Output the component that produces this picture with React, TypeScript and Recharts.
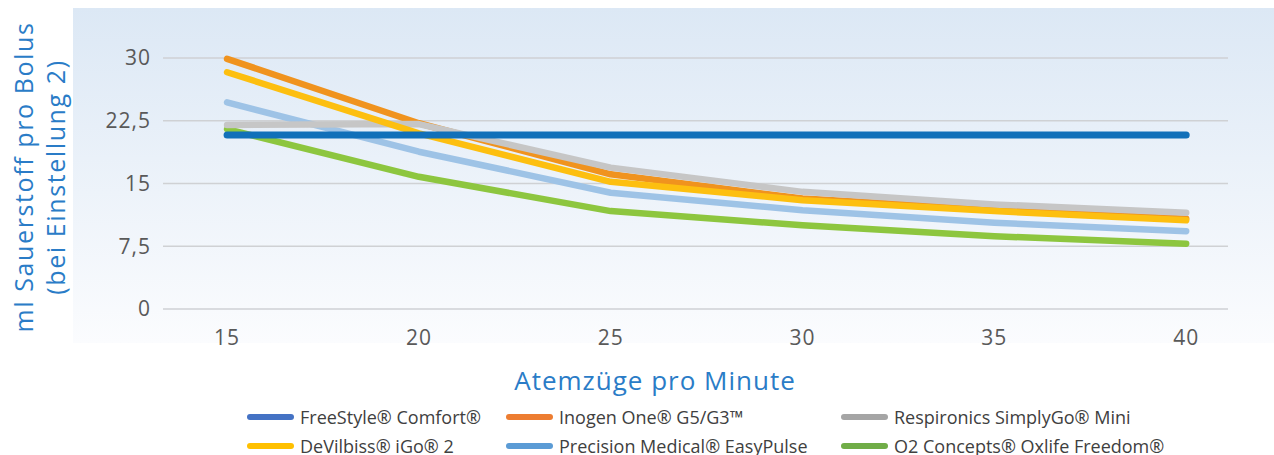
import { LineChart, Line, XAxis, YAxis, CartesianGrid } from 'recharts'

// Atemzüge pro Minute
const breaths = [15, 20, 25, 30, 35, 40]

// ml Sauerstoff pro Bolus (Einstellung 2)
const freeStyle = [20.8, 20.8, 20.8, 20.8, 20.8, 20.8]
const inogen = [29.9, 22.2, 16.1, 13.2, 11.9, 10.8]
const respironics = [22.0, 22.1, 16.9, 14.0, 12.5, 11.5]
const deVilbiss = [28.3, 21.0, 15.2, 13.0, 11.7, 10.6]
const precision = [24.7, 18.8, 13.9, 11.8, 10.3, 9.3]
const o2Concepts = [21.5, 15.8, 11.7, 10.0, 8.7, 7.8]

const yTicks = [0, 7.5, 15, 22.5, 30]
const xTicks = breaths

type SeriesKey = 'freeStyle' | 'inogen' | 'respironics' | 'deVilbiss' | 'precision' | 'o2Concepts'

const SERIES: Record<SeriesKey, { label: string; line: string; legend: string; width: number }> = {
  freeStyle: { label: 'FreeStyle® Comfort®', line: '#1170b9', legend: '#4472c4', width: 7 },
  inogen: { label: 'Inogen One® G5/G3™', line: '#f0931e', legend: '#ed7d31', width: 6.5 },
  respironics: { label: 'Respironics SimplyGo® Mini', line: '#c6c6c6', legend: '#a5a5a5', width: 6.5 },
  deVilbiss: { label: 'DeVilbiss® iGo® 2', line: '#fdbf10', legend: '#ffc000', width: 6.5 },
  precision: { label: 'Precision Medical® EasyPulse', line: '#9ec3e6', legend: '#5b9bd5', width: 6.5 },
  o2Concepts: { label: 'O2 Concepts® Oxlife Freedom®', line: '#8dc63f', legend: '#70ad47', width: 6.5 },
}

// draw order: last one ends up on top
const DRAW_ORDER: SeriesKey[] = ['o2Concepts', 'precision', 'inogen', 'respironics', 'deVilbiss', 'freeStyle']

// legend rows as in the picture
const LEGEND_ROWS: SeriesKey[][] = [
  ['freeStyle', 'inogen', 'respironics'],
  ['deVilbiss', 'precision', 'o2Concepts'],
]
const LEGEND_COLS = [247, 506, 841]

const data = breaths.map((b, i) => ({
  x: b,
  freeStyle: freeStyle[i],
  inogen: inogen[i],
  respironics: respironics[i],
  deVilbiss: deVilbiss[i],
  precision: precision[i],
  o2Concepts: o2Concepts[i],
}))

const fmtY = (v: number) => String(v).replace('.', ',')

const TITLE_BLUE = '#2a7cc7'
const FONT = '"Open Sans", "Noto Sans", sans-serif'

export default function App() {
  return (
    <div style={{ position: 'absolute', left: 0, top: 0, width: 1274, height: 455, background: '#fff', overflow: 'hidden' }}>
      {/* plot background */}
      <div
        style={{
          position: 'absolute',
          left: 73,
          top: 8,
          width: 1201,
          height: 335,
          background: 'linear-gradient(to bottom, #dce8f5, #fbfcfe)',
        }}
      />

      {/* y axis title, two lines */}
      <div
        style={{
          position: 'absolute',
          left: 39,
          top: 177,
          transform: 'translate(-50%, -50%) rotate(-90deg)',
          whiteSpace: 'nowrap',
          textAlign: 'center',
          color: TITLE_BLUE,
          fontFamily: FONT,
          fontSize: 25,
          letterSpacing: 1.6,
          lineHeight: '32px',
        }}
      >
        ml Sauerstoff pro Bolus
        <br />
        (bei Einstellung 2)
      </div>

      <div style={{ position: 'absolute', left: 0, top: 0 }}>
        <LineChart width={1274} height={455} data={data} margin={{ top: 58, right: 46, bottom: 106, left: 0 }}>
          <CartesianGrid vertical={false} stroke="#cfd1d4" strokeWidth={1.5} />
          <XAxis
            dataKey="x"
            type="number"
            domain={[13.33, 41.09]}
            ticks={xTicks}
            axisLine={false}
            tickLine={false}
            tickSize={0}
            tickMargin={21}
            height={40}
            tick={{ fill: '#595959', fontSize: 21, fontFamily: FONT, letterSpacing: 1 }}
          />
          <YAxis
            domain={[0, 30]}
            ticks={yTicks}
            tickFormatter={fmtY}
            axisLine={false}
            tickLine={false}
            tickSize={0}
            tickMargin={12}
            width={163}
            tick={{ fill: '#595959', fontSize: 21, fontFamily: FONT, letterSpacing: 1 }}
          />
          {DRAW_ORDER.map((key) => (
            <Line
              key={key}
              type="linear"
              dataKey={key}
              stroke={SERIES[key].line}
              strokeWidth={SERIES[key].width}
              strokeLinecap="round"
              strokeLinejoin="round"
              dot={false}
              activeDot={false}
              isAnimationActive={false}
            />
          ))}
        </LineChart>
      </div>

      {/* x axis title */}
      <div
        style={{
          position: 'absolute',
          left: 655,
          top: 380,
          transform: 'translate(-50%, -50%)',
          whiteSpace: 'nowrap',
          color: TITLE_BLUE,
          fontFamily: FONT,
          fontSize: 26,
          letterSpacing: 1,
        }}
      >
        Atemzüge pro Minute
      </div>

      {/* legend */}
      {LEGEND_ROWS.map((row, r) =>
        row.map((key, c) => (
          <div
            key={key}
            style={{
              position: 'absolute',
              left: LEGEND_COLS[c],
              top: 417 + r * 29,
              transform: 'translateY(-50%)',
              display: 'flex',
              alignItems: 'center',
              whiteSpace: 'nowrap',
              fontFamily: FONT,
              fontSize: 18,
              color: '#404040',
            }}
          >
            <span
              style={{
                display: 'inline-block',
                width: 47,
                height: 6,
                borderRadius: 3,
                background: SERIES[key].legend,
                marginRight: 6,
              }}
            />
            {SERIES[key].label}
          </div>
        ))
      )}
    </div>
  )
}
